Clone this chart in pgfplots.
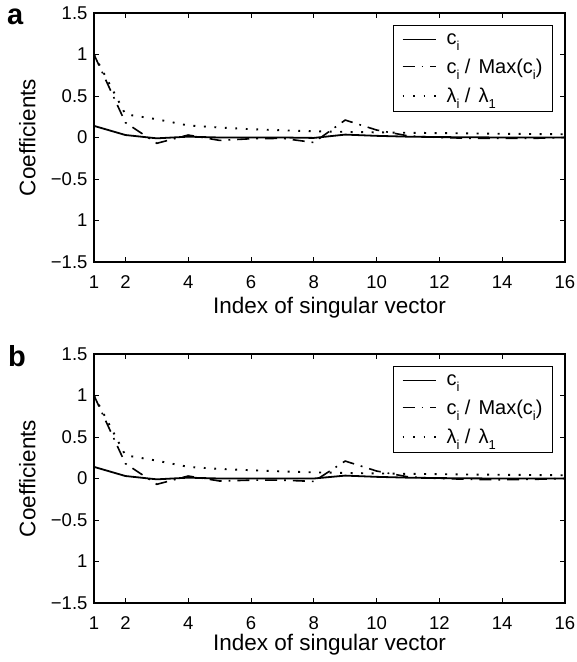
\documentclass[border=0pt]{standalone}
\usepackage{fontspec}
\setmainfont{Liberation Sans}
\usepackage{pgfplots}
\pgfplotsset{compat=1.18}
\newcommand{\sub}[1]{\raisebox{-0.6ex}{\fontsize{13}{13}\selectfont #1}}
\pgfplotsset{panel/.style={
 width=471pt, height=249pt, scale only axis,
 xmin=1, xmax=16, ymin=-1.5, ymax=1.5,
 xtick={1,2,4,6,8,10,12,14,16},
 xticklabels={1,2,4,6,8,10,12,14,16},
 ytick={-1.5,-1,-0.5,0,0.5,1,1.5},
 yticklabels={−1.5,1,−0.5,0,0.5,1,1.5},
 tick align=inside, major tick length=5pt,
 tick style={line width=0.9pt, black},
 axis line style={line width=1.1pt},
 ticklabel style={font=\fontsize{18.5}{21}\selectfont},
 xticklabel style={anchor=base, yshift=-26pt},
 yticklabel style={xshift=-3pt},
 xlabel={Index of singular vector},
 ylabel={Coefficients},
 every axis y label/.style={at={(axis description cs:-0.1242,0.5)}, rotate=90, anchor=base, font=\fontsize{22.5}{26}\selectfont},
 legend style={at={(axis description cs:0.9745,0.952)}, anchor=north east, draw=black, line width=0.9pt,
   font=\fontsize{20}{24}\selectfont, cells={anchor=west}, inner xsep=8pt, inner ysep=6pt, row sep=9pt,
   /tikz/every odd column/.append style={column sep=8pt}},
 legend image code/.code={\draw[#1] (0pt,0pt) -- (33pt,0pt);},
 sl/.style={black, line width=1.8pt},
 dl/.style={black, line width=1.6pt, dash pattern=on 12pt off 7pt on 1.8pt off 7pt},
 pl/.style={black, line width=1.9pt, dash pattern=on 1.9pt off 8.6pt},
}}
\begin{document}
\begin{tikzpicture}
\useasboundingbox (-94pt,-400pt) rectangle (483pt,262pt);
\begin{axis}[panel, name=A,
 every axis x label/.style={at={(axis description cs:0.5,-0.205)}, anchor=base, font=\fontsize{22.5}{26}\selectfont}]
\addplot[sl] coordinates {(1,0.14) (2,0.03) (3,-0.01) (4,0.01) (5,0.0) (6,0.0) (7,0.0) (8,-0.005) (9,0.035) (10,0.02) (11,0.01) (12,0.005) (13,0.003) (14,0.0) (15,0.0) (16,0.0)};
\addlegendentry{c\sub{i}}
\addplot[dl] coordinates {(1,1.0) (2,0.18) (3,-0.07) (4,0.03) (5,-0.035) (6,-0.015) (7,-0.01) (8,-0.06) (9,0.21) (10,0.09) (11,0.02) (12,0.0) (13,-0.01) (14,-0.01) (15,-0.01) (16,0.0)};
\addlegendentry{c\sub{i} /\hspace{0.4em}Max(c\sub{i})}
\addplot[pl] coordinates {(1,1.0) (2,0.28) (3,0.22) (4,0.145) (5,0.12) (6,0.10) (7,0.087) (8,0.075) (9,0.068) (10,0.062) (11,0.057) (12,0.053) (13,0.049) (14,0.045) (15,0.042) (16,0.039)};
\addlegendentry{λ\sub{i} /\hspace{0.4em}λ\sub{1}}
\end{axis}
\node[anchor=base west, inner sep=0, font=\fontsize{29}{30}\selectfont\bfseries] at ([xshift=-87pt, yshift=-11pt]A.north west) {a};
\begin{axis}[panel, name=B, at={(0,-341pt)},
 every axis x label/.style={at={(axis description cs:0.5,-0.19)}, anchor=base, font=\fontsize{22.5}{26}\selectfont}]
\addplot[sl] coordinates {(1,0.14) (2,0.03) (3,-0.01) (4,0.01) (5,0.0) (6,0.0) (7,0.0) (8,0.0) (9,0.035) (10,0.02) (11,0.01) (12,0.005) (13,0.002) (14,0.0) (15,0.0) (16,0.0)};
\addlegendentry{c\sub{i}}
\addplot[dl] coordinates {(1,1.0) (2,0.18) (3,-0.07) (4,0.03) (5,-0.03) (6,-0.02) (7,-0.02) (8,-0.035) (9,0.21) (10,0.09) (11,0.02) (12,0.0) (13,-0.01) (14,-0.015) (15,-0.01) (16,0.0)};
\addlegendentry{c\sub{i} /\hspace{0.4em}Max(c\sub{i})}
\addplot[pl] coordinates {(1,1.0) (2,0.28) (3,0.215) (4,0.14) (5,0.115) (6,0.10) (7,0.085) (8,0.074) (9,0.067) (10,0.061) (11,0.056) (12,0.052) (13,0.048) (14,0.045) (15,0.042) (16,0.039)};
\addlegendentry{λ\sub{i} /\hspace{0.4em}λ\sub{1}}
\end{axis}
\node[anchor=base west, inner sep=0, font=\fontsize{29}{30}\selectfont\bfseries] at ([xshift=-86pt, yshift=-12pt]B.north west) {b};
\end{tikzpicture}
\end{document}
